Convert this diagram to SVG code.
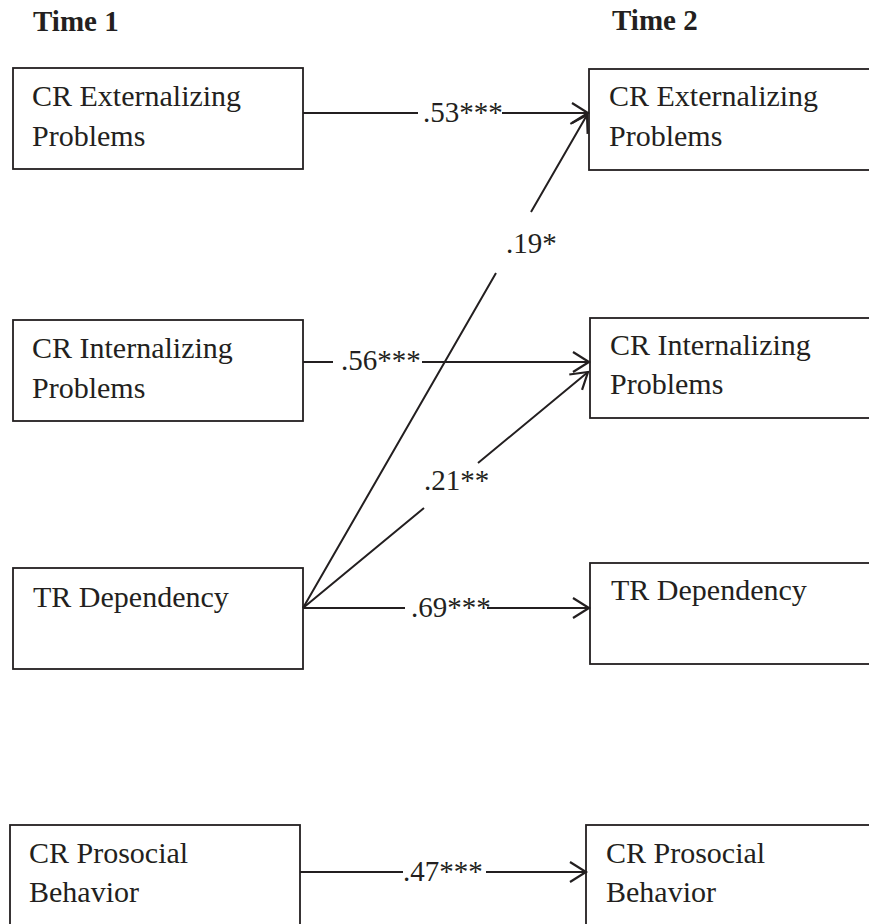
<svg xmlns="http://www.w3.org/2000/svg" width="869" height="924" viewBox="0 0 869 924">
<style>
  .box { fill: #ffffff; stroke: #231f20; stroke-width: 1.8; }
  .t { font-family: "Liberation Serif", "Times New Roman", serif; font-size: 30px; fill: #231f20; }
  .h { font-family: "Liberation Serif", "Times New Roman", serif; font-size: 29px; font-weight: bold; fill: #231f20; }
  .lbl { font-family: "Liberation Serif", "Times New Roman", serif; font-size: 29px; fill: #231f20; }
  .c { fill: none; stroke: #231f20; stroke-width: 2; marker-end: url(#arr); }
</style>
<defs>
  <marker id="arr" markerUnits="userSpaceOnUse" markerWidth="20" markerHeight="20" refX="0" refY="0" orient="auto" overflow="visible">
    <path d="M-16,-10 L0,0 L-16,10" fill="none" stroke="#231f20" stroke-width="2.2" stroke-linejoin="miter"/>
  </marker>
</defs>
<rect width="869" height="924" fill="#ffffff"/>

<text class="h" x="33" y="31">Time 1</text>
<text class="h" x="612" y="30">Time 2</text>

<g id="ext1">
  <rect class="box" x="13" y="68" width="290" height="101"/>
  <text class="t" x="32" y="106">CR Externalizing</text>
  <text class="t" x="32" y="146">Problems</text>
</g>
<g id="int1">
  <rect class="box" x="13" y="320" width="290" height="101"/>
  <text class="t" x="32" y="358">CR Internalizing</text>
  <text class="t" x="32" y="398">Problems</text>
</g>
<g id="dep1">
  <rect class="box" x="13" y="568" width="290" height="101"/>
  <text class="t" x="33" y="607">TR Dependency</text>
</g>
<g id="pro1">
  <rect class="box" x="10" y="825" width="290" height="110"/>
  <text class="t" x="29" y="863">CR Prosocial</text>
  <text class="t" x="29" y="902">Behavior</text>
</g>

<g id="ext2">
  <rect class="box" x="589" y="69" width="290" height="101"/>
  <text class="t" x="609" y="106">CR Externalizing</text>
  <text class="t" x="609" y="146">Problems</text>
</g>
<g id="int2">
  <rect class="box" x="590" y="318" width="290" height="100"/>
  <text class="t" x="610" y="355">CR Internalizing</text>
  <text class="t" x="610" y="394">Problems</text>
</g>
<g id="dep2">
  <rect class="box" x="590" y="563" width="290" height="101"/>
  <text class="t" x="611" y="600">TR Dependency</text>
</g>
<g id="pro2">
  <rect class="box" x="586" y="825" width="290" height="110"/>
  <text class="t" x="606" y="863">CR Prosocial</text>
  <text class="t" x="606" y="902">Behavior</text>
</g>

<g id="connectors">
  <path class="c" d="M303,113 H418 M502,113 H588"/>
  <path class="c" d="M303,608 L496,273 M531,212 L587,115"/>
  <path class="c" d="M303,362 H333 M422,362 H589"/>
  <path class="c" d="M303,608 L424,508 M478,463 L588,372"/>
  <path class="c" d="M303,608 H405 M487,608 H589"/>
  <path class="c" d="M300,872 H403 M486,872 H586"/>
  <text class="lbl" x="423" y="122">.53***</text>
  <text class="lbl" x="506" y="253">.19*</text>
  <text class="lbl" x="341" y="370">.56***</text>
  <text class="lbl" x="424" y="490">.21**</text>
  <text class="lbl" x="411" y="617">.69***</text>
  <text class="lbl" x="403" y="881">.47***</text>
</g>
</svg>
